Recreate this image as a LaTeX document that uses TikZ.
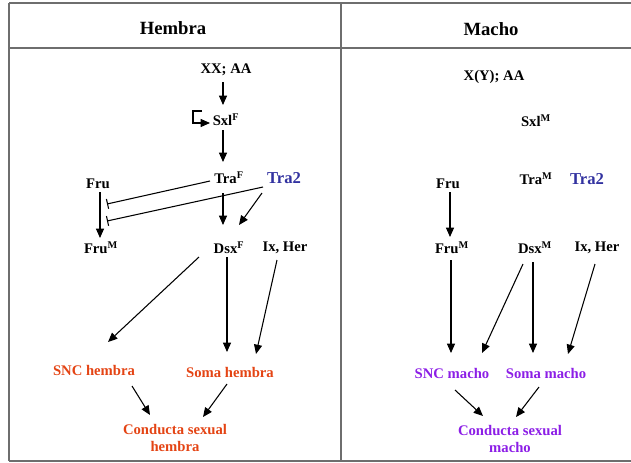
\documentclass[tikz,border=0pt]{standalone}
\usepackage{fontspec}
\setmainfont{Liberation Serif}
\usetikzlibrary{arrows.meta}
\definecolor{femred}{RGB}{228,68,20}
\definecolor{malepurple}{RGB}{140,30,230}
\definecolor{trablue}{RGB}{50,50,160}
\definecolor{rulegray}{RGB}{110,110,110}
\begin{document}
\begin{tikzpicture}[x=0.75pt,y=-0.75pt,
    gene/.style={inner sep=0pt,font=\fontsize{11}{12.75}\selectfont\bfseries,align=center},
    head/.style={inner sep=0pt,font=\fontsize{14}{16}\selectfont\bfseries},
    aux/.style={gene,text=trablue,font=\fontsize{12.5}{14}\selectfont\bfseries},
    arr/.style={line width=0.8pt,-{Triangle[length=7pt,width=6pt]}},
    inhib/.style={line width=0.8pt,-{Bar[width=7.5pt]}},
    rule/.style={draw=rulegray,line width=1.1pt}]
  \useasboundingbox (0,0) rectangle (631,462);
  % Table frame
  \draw[rule] (9,3) -- (631,3);
  \draw[rule] (9,48) -- (631,48);
  \draw[rule] (9,461) -- (631,461);
  \draw[rule] (9,3) -- (9,461);
  \draw[rule] (341,3) -- (341,461);
  \node[head] (hembra) at (173,28) {Hembra};
  \node[head] (macho) at (491,29) {Macho};
  % Left column (hembra)
  \node[gene] (xxF) at (226,70) {XX; AA};
  \node[gene] (sxlF) at (226,120) {Sxl\textsuperscript{F}};
  \node[gene] (traF) at (229,178) {Tra\textsuperscript{F}};
  \node[aux] (tra2F) at (284,178) {Tra2};
  \node[gene] (fruF) at (98,184) {Fru};
  \node[gene] (fruMF) at (101,248) {Fru\textsuperscript{M}};
  \node[gene] (dsxF) at (229,248) {Dsx\textsuperscript{F}};
  \node[gene] (ixF) at (285,248) {Ix, Her};
  \node[gene,text=femred] (sncH) at (94,370) {SNC hembra};
  \node[gene,text=femred] (somaH) at (230,372) {Soma hembra};
  \node[gene,text=femred] (condH) at (175,438) {Conducta sexual\\hembra};
  \draw[arr] ([shift={(-3,12)}]xxF.center) -- ([shift={(-3,-15)}]sxlF.center);
  \draw[arr] ([shift={(-24,-9)}]sxlF.center) -- ++(-9,0) -- ++(0,12) -- ++(17,0);
  \draw[arr] ([shift={(-3,10)}]sxlF.center) -- ([shift={(-6,-16)}]traF.center);
  \draw[arr] ([shift={(-6,15)}]traF.center) -- ([shift={(-6,-23)}]dsxF.center);
  \draw[arr] ([shift={(-22,15)}]tra2F.center) -- ([shift={(10,-23)}]dsxF.center);
  \draw[arr] ([shift={(2,8)}]fruF.center) -- ([shift={(-1,-10)}]fruMF.center);
  \draw[inhib] ([shift={(-19,3)}]traF.center) -- ([shift={(9,20)}]fruF.center);
  \draw[inhib] ([shift={(-21,9)}]tra2F.center) -- ([shift={(9,37)}]fruF.center);
  \draw[arr] ([shift={(-30,9)}]dsxF.center) -- ([shift={(14,-28)}]sncH.center);
  \draw[arr] ([shift={(-2,9)}]dsxF.center) -- ([shift={(-3,-20)}]somaH.center);
  \draw[arr] ([shift={(-8,12)}]ixF.center) -- ([shift={(26,-18)}]somaH.center);
  \draw[arr] ([shift={(38,16)}]sncH.center) -- ([shift={(-25,-23)}]condH.center);
  \draw[arr] ([shift={(-3,12)}]somaH.center) -- ([shift={(28,-21)}]condH.center);
  % Right column (macho)
  \node[gene] (xxM) at (494,77) {X(Y); AA};
  \node[gene] (sxlM) at (536,121) {Sxl\textsuperscript{M}};
  \node[gene] (fruM) at (448,184) {Fru};
  \node[gene] (traM) at (536,179) {Tra\textsuperscript{M}};
  \node[aux] (tra2M) at (587,179) {Tra2};
  \node[gene] (fruMM) at (452,248) {Fru\textsuperscript{M}};
  \node[gene] (dsxM) at (535,248) {Dsx\textsuperscript{M}};
  \node[gene] (ixM) at (597,248) {Ix, Her};
  \node[gene,text=malepurple] (sncM) at (452,373) {SNC macho};
  \node[gene,text=malepurple] (somaM) at (546,373) {Soma macho};
  \node[gene,text=malepurple] (condM) at (510,439) {Conducta sexual\\macho};
  \draw[arr] ([shift={(2,8)}]fruM.center) -- ([shift={(-2,-11)}]fruMM.center);
  \draw[arr] ([shift={(-1,12)}]fruMM.center) -- ([shift={(-1,-20)}]sncM.center);
  \draw[arr] ([shift={(-12,16)}]dsxM.center) -- ([shift={(30,-20)}]sncM.center);
  \draw[arr] ([shift={(-2,14)}]dsxM.center) -- ([shift={(-13,-20)}]somaM.center);
  \draw[arr] ([shift={(-2,16)}]ixM.center) -- ([shift={(22,-19)}]somaM.center);
  \draw[arr] ([shift={(3,17)}]sncM.center) -- ([shift={(-27,-23)}]condM.center);
  \draw[arr] ([shift={(-7,14)}]somaM.center) -- ([shift={(6,-22)}]condM.center);
\end{tikzpicture}
\end{document}
